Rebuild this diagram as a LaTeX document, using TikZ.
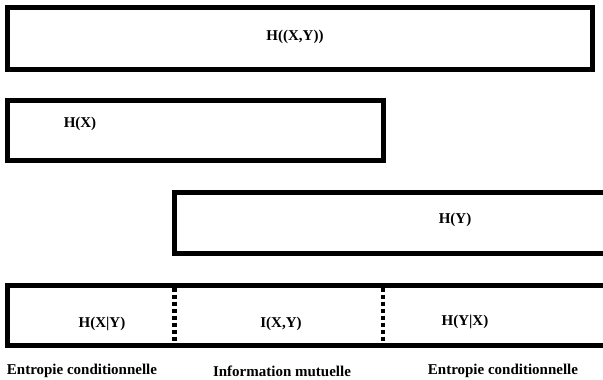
\documentclass[tikz,border=0pt]{standalone}
\usepackage{fontspec}
\setmainfont{Liberation Serif}
\usepackage{tikz}

\tikzset{
  boite/.style={line width=5pt},
  separation/.style={line width=4.5pt, dash pattern=on 4pt off 3pt},
  etiquette/.style={font=\fontsize{15pt}{17pt}\selectfont\bfseries, inner sep=0pt}
}

\begin{document}
\begin{tikzpicture}[x=1pt,y=-1pt]
        % Cadre de l'image
        \clip (0,0) rectangle (603,380);

        % Entropie jointe
        \draw[boite] (7,7) rectangle (592.5,69.5);
        \node[etiquette] (hxy) at (295,37) {H((X,Y))};

        % Entropie de X
        \draw[boite] (7,100) rectangle (383,160.5);
        \node[etiquette] (hx) at (80,124) {H(X)};

        % Entropie de Y
        \draw[boite] (174.5,192.5) rectangle (620,253);
        \node[etiquette] (hy) at (455,220) {H(Y)};

        % Decomposition
        \draw[boite] (7,285) rectangle (620,345.5);
        \draw[separation] (174.5,287.5) -- (174.5,343);
        \draw[separation] (383,287.5) -- (383,343);
        \node[etiquette] (hxsy) at (102,324) {H(X\textbar Y)};
        \node[etiquette] (ixy) at (281,324) {I(X,Y)};
        \node[etiquette] (hysx) at (465,322) {H(Y\textbar X)};

        % Legendes
        \node[etiquette] (cond1) at (82,371) {Entropie conditionnelle};
        \node[etiquette] (mut) at (282,371) {Information mutuelle};
        \node[etiquette] (cond2) at (503,371) {Entropie conditionnelle};
    \end{tikzpicture}
\end{document}
